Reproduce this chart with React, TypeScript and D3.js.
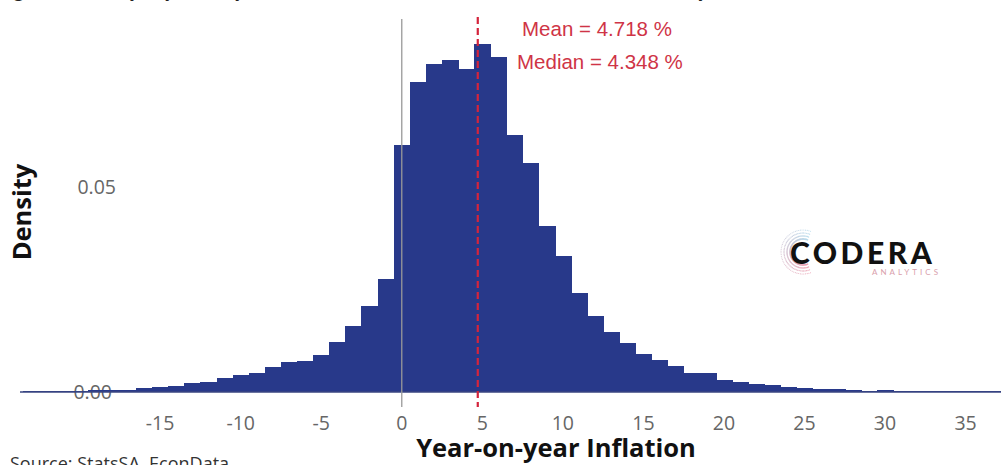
import React, { useEffect, useRef } from 'react';
import * as d3 from 'd3';

// histogram bins (1 pp wide, centred on whole numbers)
const binCentres = [
  -23, -22, -21, -20, -19, -18, -17, -16, -15, -14, -13, -12, -11, -10, -9, -8, -7, -6, -5, -4, -3, -2, -1,
  0, 1, 2, 3, 4, 5, 6, 7, 8, 9, 10, 11, 12, 13, 14, 15, 16, 17, 18, 19, 20, 21, 22, 23, 24, 25, 26, 27, 28,
  29, 30, 31, 32, 33, 34, 35, 36, 37
];
const densities = [
  0.0002, 0.0002, 0.0003, 0.0003, 0.0004, 0.0004, 0.0005, 0.0009, 0.0013, 0.0014, 0.0022, 0.0025, 0.0034,
  0.0041, 0.0047, 0.0062, 0.0072, 0.0076, 0.009, 0.0123, 0.0161, 0.021, 0.0276,
  0.0602, 0.0757, 0.08, 0.081, 0.0788, 0.0849, 0.0818, 0.0627, 0.0559, 0.0405, 0.0332, 0.0241, 0.0185,
  0.0147, 0.0119, 0.0093, 0.0078, 0.0064, 0.0046, 0.0046, 0.0029, 0.0024, 0.002, 0.0017, 0.0013, 0.0009,
  0.0008, 0.0007, 0.0004, 0.0003, 0.0005, 0.0003, 0.0003, 0.0002, 0.0002, 0.0002, 0.0002, 0.0002
];
const xTicks = [-15, -10, -5, 0, 5, 10, 15, 20, 25, 30, 35];
const yTicks = [0, 0.05];
const meanValue = 4.718;
const medianValue = 4.348;

const Histogram = () => {
  const container = useRef(null);

  useEffect(() => {
    const width = 1001;
    const height = 465;

    const xScale = d3.scaleLinear().domain([-23.7, 37.2]).range([20, 1001]);
    const yScale = d3.scaleLinear().domain([0, 0.0915]).range([392, 17]);

    const svg = d3.select(container.current);
    svg.selectAll('*').remove();
    svg.attr('width', width).attr('height', height);

    // cut-off title line at the very top
    svg
      .append('text')
      .attr('x', 0)
      .attr('y', -3)
      .style('font-family', 'Open Sans')
      .style('font-size', '18px')
      .style('fill', '#222')
      .text('Figure 1: Density of year-on-year inflation rates for all CPI items in the StatsSA survey, 2008-2023');

    // y tick labels (drawn under the bars, as in the original)
    svg
      .selectAll('.ylab')
      .data(yTicks)
      .join('text')
      .attr('class', 'ylab')
      .attr('x', (d) => (d === 0 ? 112 : 116))
      .attr('y', (d) => yScale(d) + 7)
      .attr('text-anchor', 'end')
      .style('font-family', 'Open Sans')
      .style('font-size', '19.5px')
      .style('fill', '#666')
      .text((d) => d3.format('.2f')(d));

    const bins = binCentres.map((c, i) => ({ c, d: densities[i] }));
    svg
      .selectAll('.bar')
      .data(bins)
      .join('rect')
      .attr('class', 'bar')
      .attr('x', (d) => xScale(d.c - 0.5))
      .attr('y', (d) => yScale(d.d))
      .attr('width', (d) => xScale(d.c + 0.5) - xScale(d.c - 0.5) + 0.8)
      .attr('height', (d) => yScale(0) - yScale(d.d))
      .attr('shape-rendering', 'crispEdges')
      .style('fill', '#28398a');

    // baseline
    svg
      .append('line')
      .attr('x1', 20)
      .attr('x2', 1001)
      .attr('y1', yScale(0))
      .attr('y2', yScale(0))
      .style('stroke', '#3a4680')
      .style('stroke-width', 1.3);

    // vertical reference at zero
    svg
      .append('line')
      .attr('x1', xScale(0))
      .attr('x2', xScale(0))
      .attr('y1', 19)
      .attr('y2', 407)
      .style('stroke', '#999')
      .style('stroke-width', 1.3);

    // mean line
    svg
      .append('line')
      .attr('x1', xScale(meanValue))
      .attr('x2', xScale(meanValue))
      .attr('y1', 17)
      .attr('y2', 407)
      .style('stroke', '#d4243c')
      .style('stroke-width', 2.2)
      .style('stroke-dasharray', '7,4');

    svg
      .append('text')
      .attr('x', 522)
      .attr('y', 36)
      .style('font-family', 'Liberation Sans')
      .style('font-size', '20.5px')
      .style('fill', '#cf3446')
      .text(`Mean = ${meanValue} %`);
    svg
      .append('text')
      .attr('x', 517)
      .attr('y', 69)
      .style('font-family', 'Liberation Sans')
      .style('font-size', '20.5px')
      .style('fill', '#cf3446')
      .text(`Median = ${medianValue} %`);

    // x tick labels
    svg
      .selectAll('.xlab')
      .data(xTicks)
      .join('text')
      .attr('class', 'xlab')
      .attr('x', (d) => xScale(d))
      .attr('y', 430)
      .attr('text-anchor', 'middle')
      .style('font-family', 'Open Sans')
      .style('font-size', '19.5px')
      .style('fill', '#666')
      .text((d) => d);

    // axis titles
    svg
      .append('text')
      .attr('x', 556)
      .attr('y', 457)
      .attr('text-anchor', 'middle')
      .style('font-family', 'Open Sans')
      .style('font-weight', 'bold')
      .style('font-size', '25.5px')
      .style('fill', '#111')
      .text('Year-on-year Inflation');

    svg
      .append('text')
      .attr('transform', 'translate(31, 212) rotate(-90)')
      .attr('text-anchor', 'middle')
      .style('font-family', 'Open Sans')
      .style('font-weight', 'bold')
      .style('font-size', '25.5px')
      .style('fill', '#111')
      .text('Density');

    svg
      .append('text')
      .attr('x', 10)
      .attr('y', 470)
      .style('font-family', 'Open Sans')
      .style('font-size', '18px')
      .style('fill', '#333')
      .text('Source: StatsSA, EconData');

    // logo
    const logo = svg.append('g');
    const dotColour = d3
      .scaleLinear<string>()
      .domain([0, 1])
      .range(['#a8d4e8', '#e88fa4']);
    d3.range(0, 50).forEach((i) => {
      const t = i / 49;
      const ang = (70 + t * 220) * (Math.PI / 180);
      [13, 16, 19, 22].forEach((r, j) => {
        logo
          .append('circle')
          .attr('cx', 803 + r * Math.cos(ang))
          .attr('cy', 252 - r * Math.sin(ang))
          .attr('r', 0.9 - j * 0.12)
          .style('fill', dotColour(t))
          .style('opacity', 0.75);
      });
    });
    logo
      .append('text')
      .attr('x', 790)
      .attr('y', 264)
      .style('font-family', 'Lato')
      .style('font-weight', 900)
      .style('font-size', '30px')
      .style('letter-spacing', '3.5px')
      .style('fill', '#111')
      .text('CODERA');
    logo
      .append('text')
      .attr('x', 941)
      .attr('y', 275)
      .attr('text-anchor', 'end')
      .style('font-family', 'Lato')
      .style('font-size', '8px')
      .style('letter-spacing', '3px')
      .style('fill', '#d9a0ac')
      .text('ANALYTICS');
  }, []);

  return <svg ref={container} style={{ position: 'absolute', left: 0, top: 0 }}></svg>;
};

export default function App() {
  return <Histogram />;
}
